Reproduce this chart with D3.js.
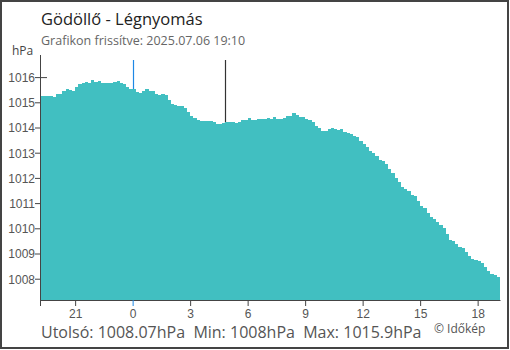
<!DOCTYPE html>
<html>
<head>
<meta charset="utf-8">
<script src="https://cdn.jsdelivr.net/npm/d3@7"></script>
<style>
  body { margin: 0; background: #fff; }
  svg { display: block; font-family: "Open Sans", "Noto Sans", sans-serif; }
  .axis text { font-size: 12px; fill: #555; }
  .axis path, .axis line { stroke: #444; }
</style>
</head>
<body>
<svg id="chart"></svg>
<script>
// pressure readings, 10 min apart, starting 2025-07-05 19:10
const startTime = new Date(2025, 6, 5, 19, 10);
const endTime = new Date(2025, 6, 6, 19, 10);
const stepMinutes = 10;
const pressure = [
  1015.25, 1015.24, 1015.26, 1015.25, 1015.23, 1015.32, 1015.34, 1015.44, 1015.52, 1015.47,
  1015.46, 1015.60, 1015.74, 1015.77, 1015.79, 1015.78, 1015.87, 1015.82, 1015.83, 1015.78,
  1015.77, 1015.78, 1015.76, 1015.79, 1015.83, 1015.76, 1015.73, 1015.59, 1015.53, 1015.52,
  1015.42, 1015.38, 1015.46, 1015.51, 1015.44, 1015.43, 1015.34, 1015.30, 1015.32, 1015.30,
  1015.10, 1014.93, 1014.90, 1014.86, 1014.84, 1014.76, 1014.60, 1014.47, 1014.36, 1014.31,
  1014.27, 1014.25, 1014.24, 1014.26, 1014.22, 1014.15, 1014.14, 1014.19, 1014.20, 1014.22,
  1014.23, 1014.16, 1014.20, 1014.28, 1014.30, 1014.36, 1014.30, 1014.28, 1014.33, 1014.35,
  1014.34, 1014.36, 1014.32, 1014.42, 1014.35, 1014.34, 1014.37, 1014.44, 1014.46, 1014.56,
  1014.50, 1014.43, 1014.41, 1014.33, 1014.29, 1014.20, 1014.07, 1013.97, 1013.86, 1013.88,
  1013.94, 1013.97, 1013.96, 1013.89, 1013.93, 1013.84, 1013.79, 1013.76, 1013.68, 1013.64,
  1013.48, 1013.34, 1013.22, 1013.07, 1013.00, 1012.86, 1012.70, 1012.66, 1012.56, 1012.34,
  1012.18, 1011.98, 1011.84, 1011.64, 1011.56, 1011.48, 1011.32, 1011.30, 1011.08, 1010.90,
  1010.80, 1010.60, 1010.46, 1010.36, 1010.26, 1010.12, 1010.00, 1009.78, 1009.55, 1009.48,
  1009.36, 1009.26, 1009.20, 1009.06, 1008.92, 1008.80, 1008.76, 1008.72, 1008.62, 1008.48,
  1008.30, 1008.20, 1008.14, 1008.07
];
const yTicks = [1008, 1009, 1010, 1011, 1012, 1013, 1014, 1015, 1016];
const markers = [
  { time: new Date(2025, 6, 6, 0, 0), color: "#1e88e5" },
  { time: new Date(2025, 6, 6, 4, 49), color: "#333" }
];
const title = "Gödöllő - Légnyomás";
const subtitle = "Grafikon frissítve: 2025.07.06 19:10";
const footer = "Utolsó: 1008.07hPa  Min: 1008hPa  Max: 1015.9hPa";

const width = 510, height = 350;
const plot = { left: 40, right: 500, top: 55, bottom: 300 };

const svg = d3.select("#chart")
    .attr("width", width)
    .attr("height", height);

const x = d3.scaleTime()
    .domain([startTime, endTime])
    .range([plot.left, plot.right]);

const y = d3.scaleLinear()
    .domain([1007.155, 1016.877])
    .range([plot.bottom, plot.top]);

const data = pressure.map((v, i) => ({
    t0: d3.timeMinute.offset(startTime, i * stepMinutes),
    t1: d3.timeMinute.offset(startTime, (i + 1) * stepMinutes),
    v
}));

// y axis first so bars cover the inner tick parts
const yAxisG = svg.append("g")
    .attr("class", "axis y-axis")
    .attr("transform", `translate(${plot.left},0)`)
    .call(d3.axisLeft(y).tickValues(yTicks).tickFormat(d3.format("d")).tickSize(5).tickSizeOuter(0));
yAxisG.selectAll(".tick line").attr("x2", 7).attr("x1", -5);
yAxisG.selectAll(".tick text").attr("x", -5).attr("dy", "0.36em");

// marker lines (midnight, sunrise)
svg.selectAll(".marker")
    .data(markers)
    .join("line")
    .attr("class", "marker")
    .attr("x1", d => Math.round(x(d.time)) + 0.5)
    .attr("x2", d => Math.round(x(d.time)) + 0.5)
    .attr("y1", 60)
    .attr("y2", plot.bottom)
    .style("stroke", d => d.color)
    .style("stroke-width", 1.2);

svg.append("g")
    .attr("shape-rendering", "crispEdges")
    .selectAll("rect")
    .data(data)
    .join("rect")
    .attr("x", d => Math.round(x(d.t0)))
    .attr("width", d => Math.round(x(d.t1)) - Math.round(x(d.t0)))
    .attr("y", d => Math.round(y(d.v)))
    .attr("height", d => plot.bottom - Math.round(y(d.v)))
    .attr("fill", "#41bfc1");

// x axis
const xAxisG = svg.append("g")
    .attr("class", "axis x-axis")
    .attr("transform", `translate(0,${plot.bottom})`)
    .call(d3.axisBottom(x).ticks(d3.timeHour.every(3)).tickFormat(d3.timeFormat("%-H")).tickSize(6).tickSizeOuter(0));
xAxisG.selectAll(".tick text").attr("y", 9);
xAxisG.selectAll(".tick line").style("stroke", d => d.getHours() === 0 ? "#1e88e5" : "#444");
xAxisG.append("line")
    .attr("x1", plot.left + 0.5).attr("x2", plot.left + 0.5)
    .attr("y1", 0).attr("y2", 6)
    .attr("stroke", "#444");

// y axis line on top of bars
svg.append("line")
    .attr("x1", plot.left + 0.5).attr("x2", plot.left + 0.5)
    .attr("y1", plot.top).attr("y2", plot.bottom)
    .attr("stroke", "#444");

// texts
svg.append("text")
    .attr("x", 41).attr("y", 25)
    .attr("font-size", 16.5).attr("fill", "#222")
    .text(title);

svg.append("text")
    .attr("x", 41).attr("y", 45)
    .attr("font-size", 12.5).attr("fill", "#666")
    .text(subtitle);

svg.append("text")
    .attr("x", 12).attr("y", 55)
    .attr("font-size", 12).attr("fill", "#444")
    .text("hPa");

svg.append("text")
    .attr("x", 41).attr("y", 338)
    .attr("font-size", 16).attr("fill", "#555")
    .attr("xml:space", "preserve")
    .style("white-space", "pre")
    .text(footer);

svg.append("text")
    .attr("x", 434).attr("y", 333)
    .attr("font-size", 12).attr("fill", "#555")
    .text("© Időkép");

// outer frame
svg.append("rect")
    .attr("x", 1).attr("y", 1)
    .attr("width", width - 3).attr("height", height - 3)
    .attr("fill", "none")
    .attr("stroke", "#444")
    .attr("stroke-width", 2);
</script>
</body>
</html>
